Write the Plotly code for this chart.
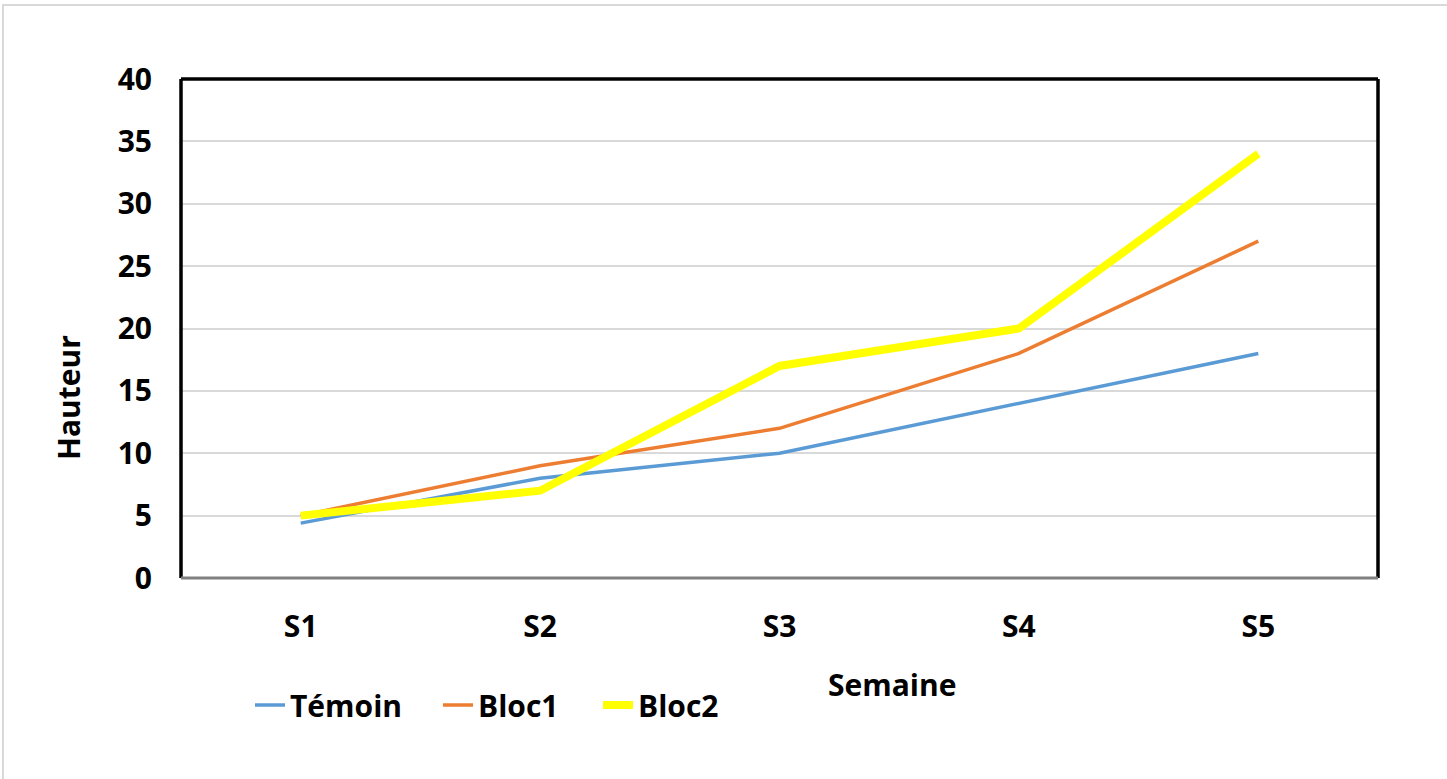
import plotly.graph_objects as go

semaines = ["S1", "S2", "S3", "S4", "S5"]
temoin = [4.4, 8.0, 10.0, 14.0, 18.0]
bloc1 = [5.0, 9.0, 12.0, 18.0, 27.0]
bloc2 = [5.0, 7.0, 17.0, 20.0, 34.0]
y_ticks = [0, 5, 10, 15, 20, 25, 30, 35, 40]

FONT = "Open Sans"
fig = go.Figure()
fig.add_trace(go.Scatter(x=semaines, y=temoin, mode="lines", name="Témoin", legend="legend",
                         line=dict(color="#5B9BD5", width=3.5)))
fig.add_trace(go.Scatter(x=semaines, y=bloc1, mode="lines", name="Bloc1", legend="legend2",
                         line=dict(color="#ED7D31", width=3.5)))
fig.add_trace(go.Scatter(x=semaines, y=bloc2, mode="lines", name="Bloc2", legend="legend3",
                         line=dict(color="#FFFF00", width=8)))

W, H = 1447, 779
L, R, T, B = 181, 69, 79, 201
pw, ph = W - L - R, H - T - B


def leg(px):
    return dict(orientation="h", x=(px - L) / pw, y=-(705 - (T + ph)) / ph,
                xanchor="left", yanchor="middle",
                font=dict(family=FONT, size=30, color="black", weight="bold"),
                bgcolor="rgba(0,0,0,0)")


fig.update_layout(
    width=W, height=H,
    margin=dict(l=L, r=R, t=T, b=B),
    paper_bgcolor="white", plot_bgcolor="white",
    font=dict(family=FONT, size=30, color="black"),
    showlegend=True,
    legend=leg(250), legend2=leg(438), legend3=leg(598),
    xaxis=dict(range=[-0.5, 4.5], showgrid=False, zeroline=False,
               showline=False, ticks="",
               tickfont=dict(family=FONT, size=30, weight="bold"), ticklabelstandoff=28),
    yaxis=dict(range=[0, 40], tickvals=y_ticks, showgrid=True, gridcolor="#D9D9D9",
               gridwidth=2, zeroline=False, showline=False, ticks="",
               tickfont=dict(family=FONT, size=30, weight="bold"), ticklabelstandoff=28),
)

# outer chart border (light gray)
fig.add_shape(type="rect", xref="paper", yref="paper",
              x0=(3 - L) / pw, x1=(W + 5 - L) / pw,
              y0=1 - (H + 5 - T) / ph, y1=1 + (T - 5) / ph,
              line=dict(color="#D9D9D9", width=2), layer="below")
# plot frame: black top/left/right, gray bottom
fig.add_shape(type="line", xref="paper", yref="paper", x0=0, x1=0, y0=0, y1=1,
              line=dict(color="black", width=3.5))
fig.add_shape(type="line", xref="paper", yref="paper", x0=1, x1=1, y0=0, y1=1,
              line=dict(color="black", width=3.5))
fig.add_shape(type="line", xref="paper", yref="paper", x0=0, x1=1, y0=1, y1=1,
              line=dict(color="black", width=3.5))
fig.add_shape(type="line", xref="paper", yref="paper", x0=0, x1=1, y0=0, y1=0,
              line=dict(color="#808080", width=3))

fig.add_annotation(text="<b>Semaine</b>", xref="paper", yref="paper",
                   x=(892 - L) / pw, y=-(684 - (T + ph)) / ph,
                   xanchor="center", yanchor="middle", showarrow=False,
                   font=dict(family=FONT, size=30, color="black"))
fig.add_annotation(text="<b>Hauteur</b>", xref="paper", yref="paper",
                   x=(68 - L) / pw, y=1 - (398 - T) / ph, textangle=-90,
                   xanchor="center", yanchor="middle", showarrow=False,
                   font=dict(family=FONT, size=30, color="black"))

fig.write_html("out.html", config={"displayModeBar": False},
               post_script="document.body.style.margin='0';")
